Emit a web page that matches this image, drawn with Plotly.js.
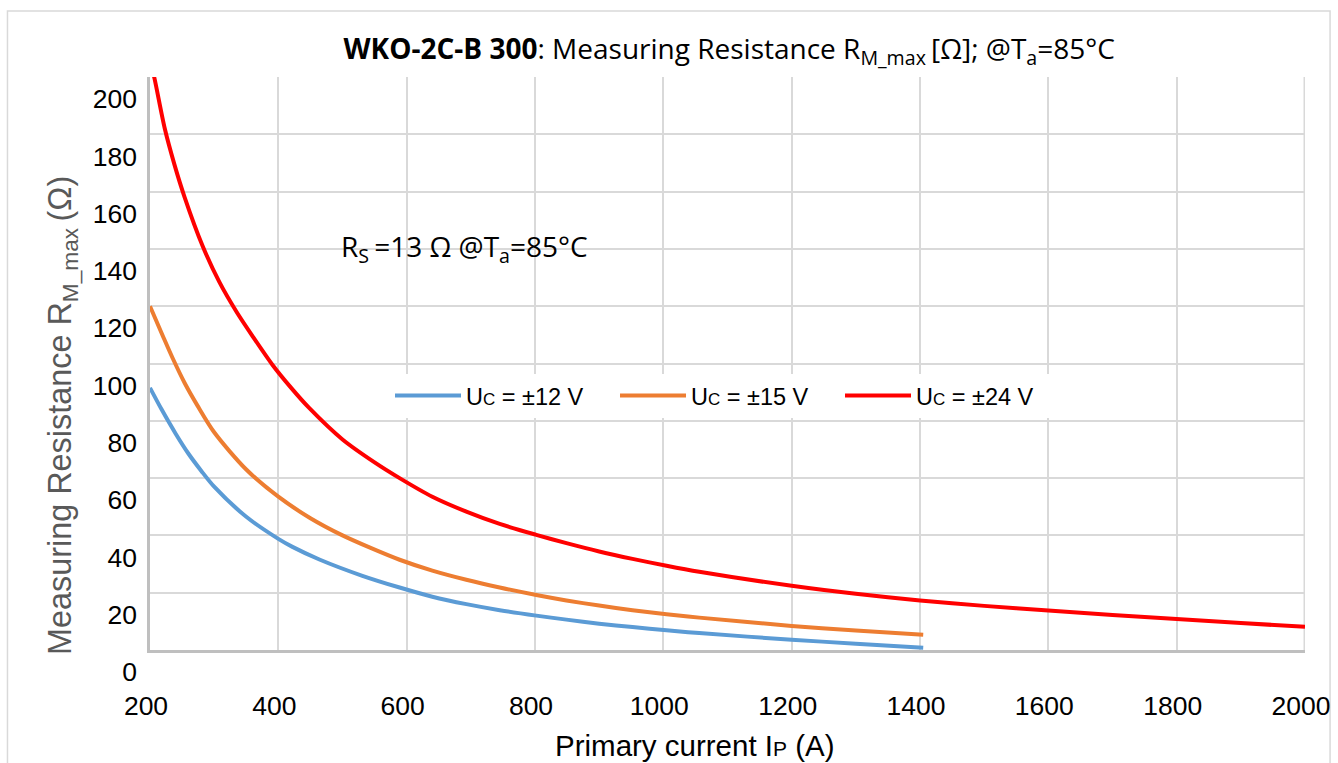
<!DOCTYPE html>
<html>
<head>
<meta charset="utf-8">
<script src="https://cdn.plot.ly/plotly-3.0.1.min.js"></script>
<style>html,body{margin:0;padding:0;background:#fff;}#chart{width:1338px;height:763px;}</style>
</head>
<body>
<div id="chart"></div>
<script>
// Primary current I_P (A) and measuring resistance R_M_max (Ohm)
const currentBlue = [200, 218, 240, 260, 280, 300, 350, 400, 422, 464, 531, 589, 640, 693, 745, 802, 849, 900, 952, 1005, 1056, 1200, 1300, 1405];
const rBlue       = [91.5, 84, 75.5, 68.5, 62.5, 57, 46.5, 38.8, 36, 31.6, 25.9, 21.8, 18.6, 16, 13.9, 12, 10.6, 9.2, 8, 6.9, 5.9, 3.6, 2.2, 0.8];

const currentOrange = [200, 220, 235, 254, 274, 300, 350, 400, 450, 500, 542, 589, 640, 693, 745, 802, 849, 900, 952, 1005, 1056, 1200, 1300, 1405];
const rOrange       = [120, 109.6, 102, 93.2, 85.3, 76, 63, 53.5, 46, 40, 35.8, 31.5, 27.7, 24.5, 21.8, 19.2, 17.3, 15.5, 13.9, 12.5, 11.3, 8.4, 6.8, 5.3];

const currentRed = [200, 207, 223, 238, 254, 282, 308, 335, 360, 391, 420, 448, 500, 550, 589, 640, 693, 745, 802, 849, 900, 952, 1005, 1056, 1200, 1300, 1400, 1500, 1600, 1700, 1800, 1900, 2000];
const rRed       = [206, 199.5, 182, 169.5, 158, 141, 128.5, 118, 109.5, 99.5, 91.5, 84.5, 73.5, 65.5, 60, 53.5, 48.3, 44, 40.2, 37.3, 34.4, 31.8, 29.4, 27.3, 22.4, 19.6, 17.3, 15.4, 13.8, 12.2, 10.8, 9.4, 8.1];

const seriesNames = ['U<span style="font-size:17px">C</span> = ±12 V', 'U<span style="font-size:17px">C</span> = ±15 V', 'U<span style="font-size:17px">C</span> = ±24 V'];
const seriesColors = ['#5b9bd5', '#ed7d31', '#ff0000'];

const xTickVals = [200, 400, 600, 800, 1000, 1200, 1400, 1600, 1800, 2000];
const yTickVals = [0, 20, 40, 60, 80, 100, 120, 140, 160, 180, 200];

const titleText = '<b>WKO-2C-B 300</b>: Measuring Resistance R<sub>M_max </sub>[Ω]; @T<sub>a</sub>=85°C';
const yTitleText = 'Measuring Resistance R<sub>M_max </sub>(Ω)';
const xTitleText = 'Primary current I<span style="font-size:21px">P</span> (A)';
const noteText = 'R<sub>S </sub>=13 Ω @T<sub>a</sub>=85°C';

const xs = [currentBlue, currentOrange, currentRed];
const ys = [rBlue, rOrange, rRed];

const traces = xs.map((x, i) => ({
  type: 'scatter', mode: 'lines', x: x, y: ys[i], name: seriesNames[i],
  line: {color: seriesColors[i], width: 4, shape: 'spline', smoothing: 0.8},
  hoverinfo: 'x+y'
}));

const tickFont = {family: 'Liberation Sans, Arial, sans-serif', size: 26.5, color: '#000'};
const calibri = 'Open Sans, Noto Sans, sans-serif';

const layout = {
  width: 1338, height: 763,
  margin: {l: 150, r: 33, t: 77, b: 113},
  paper_bgcolor: '#fff', plot_bgcolor: '#fff',
  showlegend: true,
  title: {
    text: titleText, x: 0.545, xanchor: 'center', xref: 'container',
    y: 0.935, yanchor: 'middle',
    font: {family: calibri, size: 28, color: '#000'}
  },
  xaxis: {
    range: [200, 2000], tickvals: xTickVals, ticktext: xTickVals.map(String),
    showgrid: true, gridcolor: '#d9d9d9', gridwidth: 1.5,
    showline: true, linecolor: '#bfbfbf', linewidth: 2.5,
    ticks: '', zeroline: false, tickfont: tickFont,
    ticklabelstandoff: 30, ticklabelshift: -4
  },
  yaxis: {
    range: [0, 200], tickvals: yTickVals, ticktext: yTickVals.map(String),
    showgrid: true, gridcolor: '#d9d9d9', gridwidth: 1.5,
    showline: true, linecolor: '#bfbfbf', linewidth: 2.5,
    ticks: '', zeroline: false, tickfont: tickFont,
    ticklabelstandoff: 5, ticklabelshift: 22
  },
  legend: {
    orientation: 'h', x: 0.2078, xanchor: 'left', y: 0.482, yanchor: 'top',
    bgcolor: '#fff', borderwidth: 0,
    font: {family: 'Liberation Sans, Arial, sans-serif', size: 23.5, color: '#000'},
    entrywidth: 144, entrywidthmode: 'pixels', itemwidth: 66, traceorder: 'normal'
  },
  shapes: [
    {type: 'rect', xref: 'paper', yref: 'paper', x0: 0.1169, x1: 0.4485, y0: 0.668, y1: 0.763,
     fillcolor: '#fff', line: {width: 0}, layer: 'between'},
    {type: 'line', xref: 'x', yref: 'paper', x0: 2000, x1: 2000, y0: 0, y1: 1,
     line: {color: '#d9d9d9', width: 3}, layer: 'between'},
    {type: 'rect', xref: 'paper', yref: 'paper', x0: -0.1234, x1: 1.0217, y0: -0.35, y1: 1.1153,
     fillcolor: 'rgba(0,0,0,0)', line: {color: '#d9d9d9', width: 1.5}, layer: 'below'}
  ],
  annotations: [
    {text: noteText, xref: 'paper', yref: 'paper', x: 0.272, y: 0.7016, xanchor: 'center', yanchor: 'middle',
     showarrow: false, font: {family: calibri, size: 28, color: '#000'}},
    {text: yTitleText, xref: 'paper', yref: 'paper', x: -0.0762, y: 0.410, xanchor: 'center', yanchor: 'middle',
     textangle: -90, showarrow: false, font: {family: 'Liberation Sans, Arial, sans-serif', size: 32.4, color: '#595959'}},
    {text: xTitleText, xref: 'paper', yref: 'paper', x: 0.472, y: -0.1658, xanchor: 'center', yanchor: 'middle',
     showarrow: false, font: {family: 'Liberation Sans, Arial, sans-serif', size: 29.5, color: '#000'}}
  ]
};

Plotly.newPlot('chart', traces, layout, {displayModeBar: false, responsive: false});
</script>
</body>
</html>
